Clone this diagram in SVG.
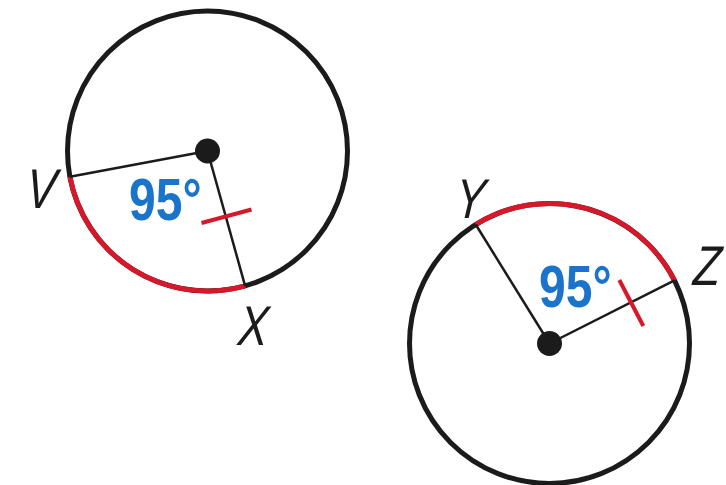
<svg xmlns="http://www.w3.org/2000/svg" width="726" height="485" viewBox="0 0 726 485">
  <style>
    .circ { fill: none; stroke: #1b1b1b; stroke-width: 5; }
    .arc { fill: none; stroke: #d7182a; stroke-width: 5; }
    .rad { stroke: #1b1b1b; stroke-width: 2.5; fill: none; }
    .tick { stroke: #d7182a; stroke-width: 4; }
    .dot { fill: #1b1b1b; }
    .deg { font-family: "Liberation Sans", Arial, sans-serif; font-weight: bold; font-size: 60px; fill: #1a74c9; }
    .lbl { font-family: "Liberation Sans", Arial, sans-serif; font-style: italic; font-size: 56px; fill: #1b1b1b; text-anchor: middle; }
  </style>
  <rect width="726" height="485" fill="#ffffff"/>
  <g id="circle-left">
    <circle class="circ" cx="207.5" cy="151" r="140"/>
    <path class="arc" d="M69.9,176.8 A140,140 0 0 0 245.1,285.8"/>
  </g>
  <g id="circle-right">
    <circle class="circ" cx="549.5" cy="343.5" r="140"/>
    <path class="arc" d="M475.7,224.5 A140,140 0 0 1 674.5,280.4"/>
  </g>
  <g id="connectors">
    <line class="rad" x1="207.5" y1="151" x2="69.9" y2="176.8"/>
    <line class="rad" x1="207.5" y1="151" x2="245.1" y2="285.8"/>
    <line class="rad" x1="549.5" y1="343.5" x2="475.7" y2="224.5"/>
    <line class="rad" x1="549.5" y1="343.5" x2="674.5" y2="280.4"/>
    <line class="tick" x1="201.5" y1="223" x2="251.5" y2="209.5"/>
    <line class="tick" x1="619.3" y1="280" x2="643.3" y2="326"/>
  </g>
  <g id="center-left"><circle class="dot" cx="207.5" cy="151" r="12.5"/></g>
  <g id="center-right"><circle class="dot" cx="549.5" cy="343.5" r="12.5"/></g>
  <g id="angle-left"><text class="deg" transform="translate(129,220) scale(0.8,1)">95°</text></g>
  <g id="angle-right"><text class="deg" transform="translate(539,307) scale(0.8,1)">95°</text></g>
  <g id="label-V"><text class="lbl" transform="translate(40,208) scale(0.8,1) skewX(-6)">V</text></g>
  <g id="label-X"><text class="lbl" transform="translate(252,345) scale(0.8,1) skewX(-6)">X</text></g>
  <g id="label-Y"><text class="lbl" transform="translate(469,218) scale(0.8,1) skewX(-6)">Y</text></g>
  <g id="label-Z"><text class="lbl" transform="translate(706,285) scale(0.8,1) skewX(-6)">Z</text></g>
</svg>
